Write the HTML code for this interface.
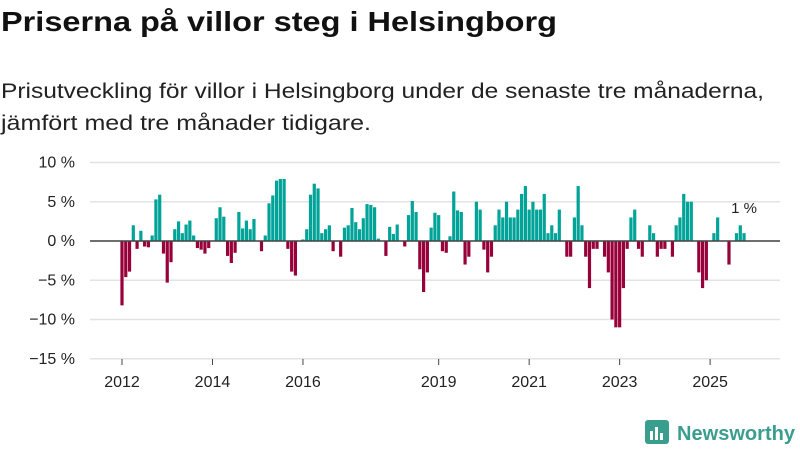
<!DOCTYPE html>
<html><head><meta charset="utf-8"><style>
html,body{margin:0;padding:0;background:#fff;}
svg{display:block;font-family:"Liberation Sans",sans-serif;}
</style></head><body>
<svg id="chart" width="800" height="450" xmlns="http://www.w3.org/2000/svg">
<text x="1" y="31" font-size="28" font-weight="bold" fill="#111" textLength="556" lengthAdjust="spacingAndGlyphs">Priserna på villor steg i Helsingborg</text>
<text x="1" y="98" font-size="21" fill="#222" textLength="763" lengthAdjust="spacingAndGlyphs">Prisutveckling för villor i Helsingborg under de senaste tre månaderna,</text>
<text x="1" y="130" font-size="21" fill="#222" textLength="370" lengthAdjust="spacingAndGlyphs">jämfört med tre månader tidigare.</text>
<g id="grid"></g>
<g id="yaxis"></g>
<g id="xaxis"></g>
<g id="bars"></g>
<line x1="90" x2="780" y1="241" y2="241" stroke="#444" stroke-width="1.5"/>
<text id="lastlabel" font-size="15" fill="#222" text-anchor="middle">1 %</text>
<g>
<rect x="645" y="420" width="24" height="24" rx="3" fill="#3a9e8f"/>
<rect x="650" y="431" width="3" height="9" fill="#fff"/>
<rect x="655" y="427" width="3" height="13" fill="#fff"/>
<rect x="660" y="433" width="3" height="7" fill="#fff"/>
<text x="677" y="440" font-size="20" font-weight="bold" fill="#3a9e8f" textLength="118" lengthAdjust="spacingAndGlyphs">Newsworthy</text>
</g>
</svg>
<script>
const values = [-8.2,-4.6,-3.9,2.0,-1.0,1.3,-0.7,-0.8,0.7,5.3,5.9,-1.6,
-5.3,-2.7,1.5,2.5,1.0,2.1,2.6,0.7,-0.9,-1.1,-1.6,-0.9,
0,2.9,4.3,3.1,-1.9,-2.8,-1.5,3.7,1.6,2.6,1.5,2.8,
0,-1.3,0.7,4.8,5.8,7.7,7.9,7.9,-1.0,-3.9,-4.4,0,
0.2,1.5,5.9,7.3,6.7,1.0,1.5,2.0,-1.3,0,-2.0,1.7,
2.0,4.2,2.4,1.5,2.9,4.7,4.6,4.3,0.3,0,-1.9,1.8,
0.9,2.1,0,-0.7,3.3,5.1,3.7,-3.6,-6.5,-4.0,1.7,3.6,
3.3,-1.3,-1.5,0.6,6.3,3.9,3.7,-3.0,-2.0,0,5.0,4.0,
-1.1,-4.0,-2.0,2.0,4.0,3.0,5.0,3.0,3.0,4.0,6.0,7.0,
4.0,5.0,4.0,4.0,6.0,1.0,2.0,1.0,4.0,0,-2.0,-2.0,
3.0,7.0,2.0,-2.0,-6.0,-1.0,-1.0,0,-2.0,-4.0,-10.0,-11.0,
-11.0,-6.0,-1.0,3.0,4.0,-1.0,-2.0,0,2.0,1.0,-2.0,-1.0,
-1.0,0,-2.0,2.0,3.0,6.0,5.0,5.0,0,-4.0,-6.0,-5.0,
0,1.0,3.0,0,0,-3.0,0,1.0,2.0,1.0];
const yTicks = [10,5,0,-5,-10,-15];
const yTickLabels = ["10 %","5 %","0 %","\u22125 %","\u221210 %","\u221215 %"];
const xTickYears = [2012,2014,2016,2019,2021,2023,2025];
const startYear = 2012;
const NS="http://www.w3.org/2000/svg";
function y(v){return 241 - v*7.85;}
function x(m){return 122 + m*3.77;}
const grid=document.getElementById('grid'), ya=document.getElementById('yaxis'), xa=document.getElementById('xaxis'), bars=document.getElementById('bars');
yTicks.forEach((t,i)=>{
  const l=document.createElementNS(NS,'line');
  
  
  l.setAttribute('x1',90);l.setAttribute('x2',780);l.setAttribute('y1',y(t));l.setAttribute('y2',y(t));
  l.setAttribute('stroke','#e3e3e3');l.setAttribute('stroke-width','1.5');
  grid.appendChild(l);
  const tx=document.createElementNS(NS,'text');
  
  
  tx.setAttribute('x',75);tx.setAttribute('y',y(t)+5);tx.setAttribute('text-anchor','end');
  tx.setAttribute('font-size','16');tx.setAttribute('fill','#222');
  tx.textContent=yTickLabels[i];
  ya.appendChild(tx);
});
xTickYears.forEach(yr=>{
  const m=(yr-startYear)*12, px=x(m);
  const l=document.createElementNS(NS,'line');
  
  
  l.setAttribute('x1',px);l.setAttribute('x2',px);l.setAttribute('y1',359);l.setAttribute('y2',365);
  l.setAttribute('stroke','#444');
  xa.appendChild(l);
  const tx=document.createElementNS(NS,'text');
  
  
  tx.setAttribute('x',px);tx.setAttribute('y',387);tx.setAttribute('text-anchor','middle');
  tx.setAttribute('font-size','16');tx.setAttribute('fill','#222');
  tx.textContent=yr;
  xa.appendChild(tx);
});
values.forEach((v,m)=>{
  if(v===0) return;
  const r=document.createElementNS(NS,'rect');
  
  
  r.setAttribute('x',x(m)-1.6);r.setAttribute('width',3.2);
  r.setAttribute('y',Math.min(y(v),y(0)));r.setAttribute('height',Math.abs(y(v)-y(0)));
  r.setAttribute('fill',v>0?'#00a398':'#98003a');
  bars.appendChild(r);
});
const last=values.length-1, lb=document.getElementById('lastlabel');
lb.setAttribute('x',x(last));lb.setAttribute('y',y(values[last])-20);
</script>
</body></html>
